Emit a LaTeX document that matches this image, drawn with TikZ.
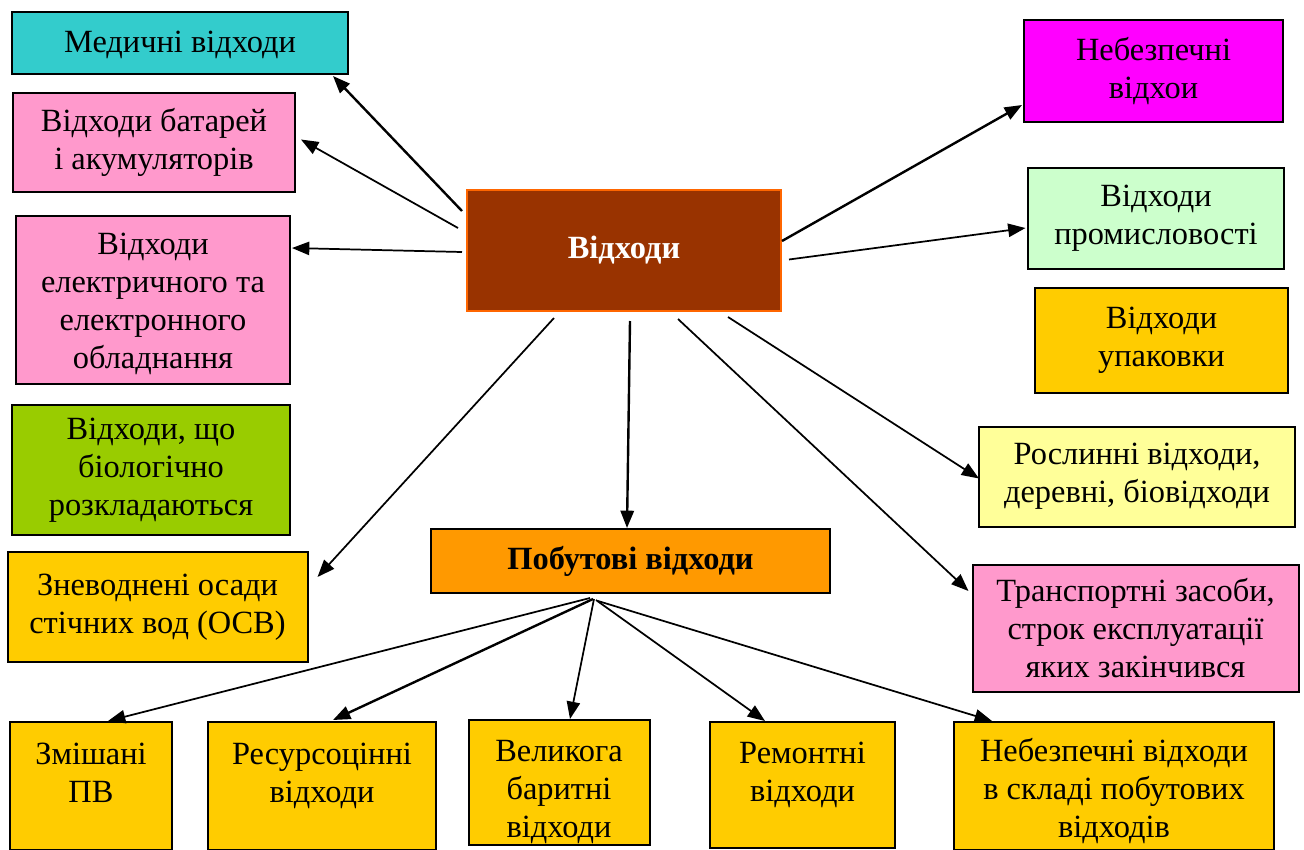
\documentclass[tikz,border=0pt]{standalone}
\usepackage{fontspec}
\setmainfont{Liberation Serif}
\usetikzlibrary{arrows.meta}
\definecolor{cCyan}{HTML}{33CCCC}
\definecolor{cPink}{HTML}{FF99CC}
\definecolor{cGreen}{HTML}{99CC00}
\definecolor{cGold}{HTML}{FFCC00}
\definecolor{cBrown}{HTML}{993300}
\definecolor{cBrownEdge}{HTML}{FF6600}
\definecolor{cMagenta}{HTML}{FF00FF}
\definecolor{cMint}{HTML}{CCFFCC}
\definecolor{cLemon}{HTML}{FFFF99}
\definecolor{cOrange}{HTML}{FF9900}
\newcommand{\topgap}[1]{\rule{0pt}{#1}}
\begin{document}
\begin{tikzpicture}[x=0.75pt,y=-0.75pt,
  box/.style={draw=black, line width=1.5pt, align=center, inner sep=0pt,
    font=\fontsize{24.3}{28.5}\selectfont},
  sz/.style 2 args={minimum width=#1*0.75pt, minimum height=#2*0.75pt},
  arr/.style={-{Triangle[length=13pt,width=10pt]}, line width=1.3pt},
  tarr/.style={arr, line width=1.8pt}]
\useasboundingbox (0,0) rectangle (1304,850);

% left column
\node[box, fill=cCyan, sz={336}{62}] (med) at (180,43) {\topgap{19pt}Медичні відходи};
\node[box, fill=cPink, sz={282}{99}] (bat) at (154,142.5) {Відходи батарей\\і акумуляторів};
\node[box, fill=cPink, sz={274}{168}] (el) at (153,300) {\topgap{22pt}Відходи\\електричного та\\електронного\\обладнання};
\node[box, fill=cGreen, sz={278}{130}] (bio) at (151,470) {Відходи, що\\біологічно\\розкладаються};
\node[box, fill=cGold, sz={300}{110}] (osv) at (157.5,607) {Зневоднені осади\\стічних вод (ОСВ)};

% centre
\node[box, draw=cBrownEdge, fill=cBrown, text=white, sz={314}{121}] (main) at (624,250.5) {\textbf{Відходи}};
\node[box, fill=cOrange, sz={399}{64}] (pob) at (630.5,561) {\textbf{Побутові відходи}};

% right column
\node[box, fill=cMagenta, sz={259}{102}] (neb) at (1153.5,71) {Небезпечні\\відхои};
\node[box, fill=cMint, sz={256}{101}] (prom) at (1156,218.5) {Відходи\\промисловості};
\node[box, fill=cGold, sz={253}{105}] (upak) at (1161.5,340.5) {Відходи\\упаковки};
\node[box, fill=cLemon, sz={316}{100}] (rosl) at (1137,476.5) {Рослинні відходи,\\деревні, біовідходи};
\node[box, fill=cPink, sz={326}{127}] (trans) at (1135.5,628.5) {Транспортні засоби,\\строк експлуатації\\яких закінчився};

% bottom row
\node[box, fill=cGold, sz={162}{128}] (zm) at (91,786) {\topgap{25pt}Змішані\\ПВ\\\mbox{}};
\node[box, fill=cGold, sz={228}{128}] (res) at (322,786) {\topgap{25pt}Ресурсоцінні\\відходи\\\mbox{}};
\node[box, fill=cGold, sz={181}{125}] (vel) at (559,782.5) {\topgap{30pt}Великога\\баритні\\відходи};
\node[box, fill=cGold, sz={185}{126}] (rem) at (802.5,785) {\topgap{25pt}Ремонтні\\відходи\\\mbox{}};
\node[box, fill=cGold, sz={320}{128}] (nebpv) at (1114,786) {\topgap{25pt}Небезпечні відходи\\в складі побутових\\відходів};

% arrows from main
\draw[tarr] ([shift={(-4,22)}]main.north west) -- ([shift={(-16,1)}]med.south east);
\draw[arr] ([shift={(-8,39)}]main.north west) -- ([shift={(5,-3)}]bat.east);
\draw[arr] ([shift={(-4,1.5)}]main.west) -- ([shift={(1,33)}]el.north east);
\draw[arr] ([shift={(88,6)}]main.south west) -- ([shift={(9,26)}]osv.north east);
\draw[tarr] ([shift={(6,9)}]main.south) -- ([shift={(-3.5,0)}]pob.north);
\draw[arr] ([shift={(54,7)}]main.south) -- ([shift={(-3,27)}]trans.north west);
\draw[arr] ([shift={(-54,5)}]main.south east) -- ([shift={(1,2)}]rosl.west);
\draw[arr] ([shift={(7,9)}]main.east) -- ([shift={(-1.5,9.5)}]prom.west);
\draw[tarr] ([shift={(0,-9.5)}]main.east) -- ([shift={(-1,-18)}]neb.south west);

% arrows from pob
\draw[arr] ([shift={(-40.5,4)}]pob.south) -- ([shift={(17,0)}]zm.north);
\draw[tarr] ([shift={(-37.5,5)}]pob.south) -- ([shift={(11,-1)}]res.north);
\draw[arr] ([shift={(-36.5,5)}]pob.south) -- ([shift={(11,0)}]vel.north);
\draw[arr] ([shift={(-34.5,6)}]pob.south) -- ([shift={(-37.5,0)}]rem.north);
\draw[arr] ([shift={(-32.5,7)}]pob.south) -- ([shift={(39,0)}]nebpv.north west);
\end{tikzpicture}
\end{document}
